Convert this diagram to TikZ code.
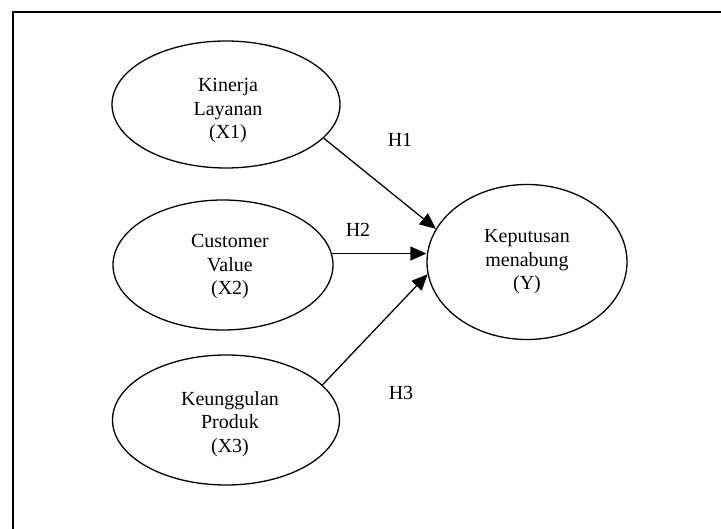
\documentclass[tikz,border=0pt]{standalone}
\usepackage{fontspec}
\setmainfont{Liberation Serif}
\usetikzlibrary{shapes.geometric,arrows.meta}
\begin{document}
\begin{tikzpicture}[x=1pt,y=-1pt,
  var/.style={ellipse,draw,line width=1.3pt,inner sep=0pt},
  vtext/.style={align=center,inner sep=0pt,font=\fontsize{20}{23.5}\selectfont},
  arr/.style={line width=1.3pt,-{Triangle[length=16pt,width=14pt]}},
  hlab/.style={font=\fontsize{20}{23.5}\selectfont,inner sep=0pt}]
\useasboundingbox (0,0) rectangle (721,529);
\draw[line width=2pt] (12.5,529) -- (12.5,12.5) -- (721,12.5);
\node[var,minimum width=228pt,minimum height=127pt] (E1) at (226,104.5) {};
\node[var,minimum width=220pt,minimum height=130pt] (E2) at (223,265) {};
\node[var,minimum width=227pt,minimum height=130pt] (E3) at (226,420) {};
\node[var,minimum width=200pt,minimum height=155pt] (Y) at (527,262) {};
\node[vtext] (T1) at (228,111) {Kinerja\\Layanan\\(X1)};
\node[vtext] (T2) at (230,267) {Customer\\Value\\(X2)};
\node[vtext] (T3) at (230,424) {Keunggulan\\Produk\\(X3)};
\node[vtext] (T4) at (527,262) {Keputusan\\menabung\\(Y)};
\draw[arr] (E1.-19.4) -- (Y.160.6);
\draw[arr] (E2.6.6) -- (E2.6.6 -| Y.west);
\draw[arr] (E3.20.4) -- (Y.187.4);
\node[hlab] (H1) at (400,140) {H1};
\node[hlab] (H2) at (358,230) {H2};
\node[hlab] (H3) at (401,393) {H3};
\end{tikzpicture}
\end{document}
